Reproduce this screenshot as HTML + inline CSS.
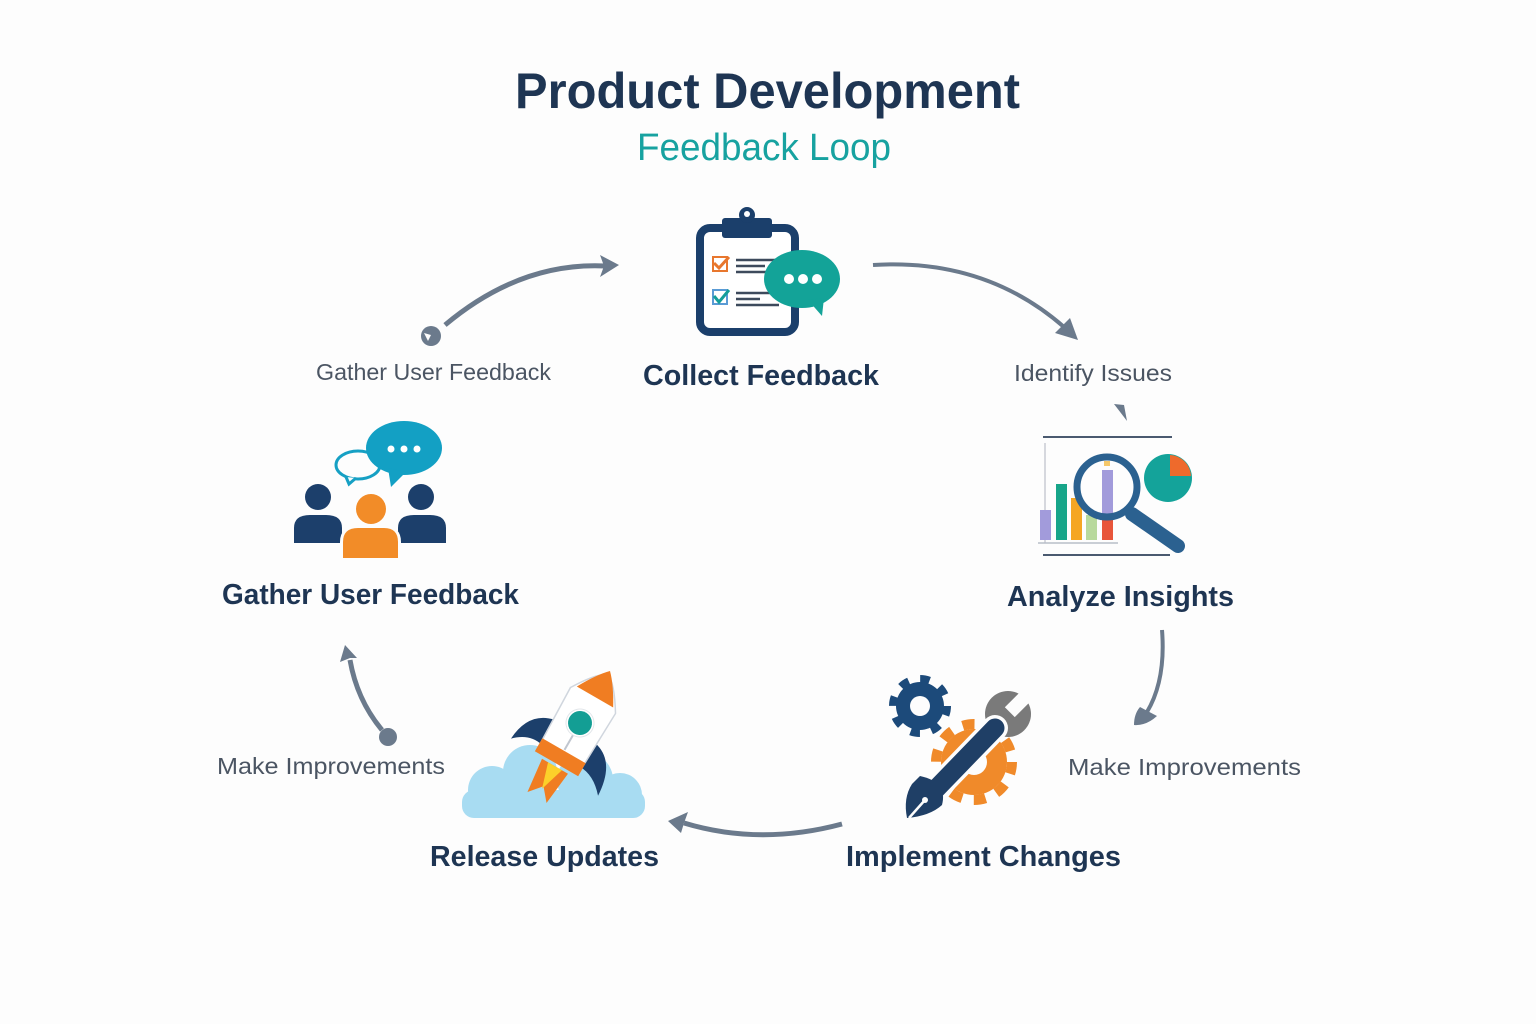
<!DOCTYPE html>
<html><head><meta charset="utf-8"><style>
html,body{margin:0;padding:0;background:#fdfdfd;}
svg{display:block;}
.b{font-family:"Liberation Sans",sans-serif;font-weight:bold;fill:#1e3553;}
.s{font-family:"Liberation Sans",sans-serif;fill:#4b5563;}
</style></head><body>
<svg width="1536" height="1024" viewBox="0 0 1536 1024" xmlns="http://www.w3.org/2000/svg">
<rect width="1536" height="1024" fill="#fdfdfd"/>

<!-- Titles -->
<text class="b" x="515" y="108" font-size="50" textLength="505" lengthAdjust="spacingAndGlyphs">Product Development</text>
<text x="637" y="160" font-family="Liberation Sans,sans-serif" font-size="38" fill="#17a2a0" textLength="254" lengthAdjust="spacingAndGlyphs">Feedback Loop</text>

<!-- Node labels -->
<text class="b" x="643" y="385" font-size="29" textLength="236" lengthAdjust="spacingAndGlyphs">Collect Feedback</text>
<text class="b" x="222" y="604" font-size="29" textLength="297" lengthAdjust="spacingAndGlyphs">Gather User Feedback</text>
<text class="b" x="1007" y="606" font-size="29" textLength="227" lengthAdjust="spacingAndGlyphs">Analyze Insights</text>
<text class="b" x="846" y="866" font-size="29" textLength="275" lengthAdjust="spacingAndGlyphs">Implement Changes</text>
<text class="b" x="430" y="866" font-size="29" textLength="229" lengthAdjust="spacingAndGlyphs">Release Updates</text>

<!-- connector labels -->
<text class="s" x="316" y="380" font-size="23" textLength="235" lengthAdjust="spacingAndGlyphs">Gather User Feedback</text>
<text class="s" x="1014" y="381" font-size="23" textLength="158" lengthAdjust="spacingAndGlyphs">Identify Issues</text>
<text class="s" x="217" y="774" font-size="23" textLength="228" lengthAdjust="spacingAndGlyphs">Make Improvements</text>
<text class="s" x="1068" y="775" font-size="23" textLength="233" lengthAdjust="spacingAndGlyphs">Make Improvements</text>

<!-- Arrows -->
<g fill="#6b7a8c" stroke="none">
  <path d="M445,325 Q520,262 605,266" fill="none" stroke="#6b7a8c" stroke-width="5"/>
  <polygon points="619,265 600,255 604,266 600,277"/>
  <circle cx="431" cy="336" r="10"/>
  <path d="M424,333 l7,2 l-3,6 z" fill="#fdfdfd"/>
  <path d="M873,265 Q985,258 1064,327" fill="none" stroke="#6b7a8c" stroke-width="4"/>
  <polygon points="1078,340 1055,333 1070,318"/>
  <polygon points="1114,404 1124,405 1127,421"/>
  <path d="M1162,630 Q1166,680 1147,712" fill="none" stroke="#6b7a8c" stroke-width="4"/>
  <path d="M1140,707 L1157,716 Q1146,726 1134,725 Q1134,714 1140,707 z"/>
  <path d="M842,824 Q760,846 684,823" fill="none" stroke="#6b7a8c" stroke-width="5"/>
  <polygon points="668,821 688,812 684,823 681,833"/>
  <path d="M382,730 Q357,700 350,660" fill="none" stroke="#6b7a8c" stroke-width="5"/>
  <polygon points="345,645 340,662 350,658 357,658"/>
  <circle cx="388" cy="737" r="9"/>
</g>

<!-- Icon 1: Clipboard -->
<g>
  <rect x="700" y="228" width="95" height="104" rx="10" fill="#fff" stroke="#1b3f6b" stroke-width="8"/>
  <rect x="722" y="218" width="50" height="20" rx="3" fill="#1b3f6b"/>
  <circle cx="747" cy="215" r="8" fill="#1b3f6b"/>
  <circle cx="747" cy="214" r="3" fill="#fff"/>
  <rect x="713" y="257" width="14" height="14" fill="none" stroke="#e8772e" stroke-width="2"/>
  <path d="M714,263 l5,5 l10,-11" fill="none" stroke="#e8772e" stroke-width="3"/>
  <g stroke="#3d4a5c" stroke-width="2.5">
    <line x1="736" y1="260" x2="775" y2="260"/>
    <line x1="736" y1="266" x2="765" y2="266"/>
    <line x1="736" y1="272" x2="770" y2="272"/>
    <line x1="736" y1="293" x2="775" y2="293"/>
    <line x1="736" y1="299" x2="760" y2="299"/>
    <line x1="736" y1="305" x2="779" y2="305"/>
  </g>
  <rect x="713" y="290" width="14" height="14" fill="none" stroke="#5a9bd5" stroke-width="2"/>
  <path d="M714,296 l5,6 l10,-12" fill="none" stroke="#139e9a" stroke-width="3"/>
  <ellipse cx="802" cy="279" rx="38" ry="29" fill="#13a398"/>
  <polygon points="808,300 822,316 824,298" fill="#13a398"/>
  <circle cx="789" cy="279" r="5" fill="#fff"/>
  <circle cx="803" cy="279" r="5" fill="#fff"/>
  <circle cx="817" cy="279" r="5" fill="#fff"/>
</g>

<!-- Icon 2: Analyze -->
<g>
  <line x1="1043" y1="437" x2="1172" y2="437" stroke="#4a5a70" stroke-width="2"/>
  <line x1="1043" y1="555" x2="1170" y2="555" stroke="#4a5a70" stroke-width="2"/>
  <line x1="1045" y1="443" x2="1045" y2="543" stroke="#c8ccd4" stroke-width="1.5"/>
  <line x1="1038" y1="543" x2="1118" y2="543" stroke="#b8bec8" stroke-width="1.5"/>
  <rect x="1040" y="510" width="11" height="30" fill="#a29bdb"/>
  <rect x="1056" y="484" width="11" height="56" fill="#17a589"/>
  <rect x="1071" y="498" width="11" height="42" fill="#f5a623"/>
  <rect x="1086" y="515" width="11" height="25" fill="#b8d99c"/>
  <rect x="1102" y="470" width="11" height="50" fill="#a29bdb"/>
  <rect x="1102" y="520" width="11" height="20" fill="#e8553a"/>
  <rect x="1104" y="461" width="6" height="5" fill="#f5c86a"/>
  <line x1="1132" y1="514" x2="1178" y2="546" stroke="#2b6190" stroke-width="14" stroke-linecap="round"/>
  <circle cx="1107" cy="487" r="30" fill="none" stroke="#2b6190" stroke-width="7"/>
  <circle cx="1168" cy="478" r="24" fill="#14a39a"/>
  <path d="M1170,476 L1170,455 A22,22 0 0 1 1191,476 Z" fill="#ee6a2c"/>
</g>

<!-- Icon 3: People -->
<g>
  <ellipse cx="358" cy="465" rx="22" ry="14" fill="none" stroke="#16a0c4" stroke-width="3"/>
  <path d="M346,477 L349,484 L356,478" fill="#fdfdfd" stroke="#16a0c4" stroke-width="3"/>
  <ellipse cx="404" cy="448" rx="38" ry="27" fill="#13a0c4"/>
  <polygon points="388,468 391,487 406,472" fill="#13a0c4"/>
  <circle cx="391" cy="449" r="3.5" fill="#fff"/>
  <circle cx="404" cy="449" r="3.5" fill="#fff"/>
  <circle cx="417" cy="449" r="3.5" fill="#fff"/>
  <circle cx="318" cy="497" r="13" fill="#1c3f6b"/>
  <path d="M294,543 L294,528 Q294,515 310,515 L326,515 Q342,515 342,528 L342,543 Z" fill="#1c3f6b"/>
  <circle cx="421" cy="497" r="13" fill="#1c3f6b"/>
  <path d="M398,543 L398,528 Q398,515 414,515 L430,515 Q446,515 446,528 L446,543 Z" fill="#1c3f6b"/>
  <circle cx="371" cy="508" r="17" fill="#fdfdfd"/>
  <circle cx="371" cy="509" r="15" fill="#f28c28"/>
  <path d="M340,560 L340,542 Q340,526 358,526 L384,526 Q401,526 401,542 L401,560 Z" fill="#fdfdfd"/>
  <path d="M343,558 L343,542 Q343,528 358,528 L384,528 Q398,528 398,542 L398,558 Z" fill="#f28c28"/>
</g>

<!-- Icon 4: Gears & wrench -->
<g>
  <circle cx="920" cy="706" r="24" fill="#1c4a7a"/>
  <circle cx="920" cy="706" r="27" fill="none" stroke="#1c4a7a" stroke-width="8" stroke-dasharray="9.5 11.7"/>
  <circle cx="920" cy="706" r="10" fill="#fdfdfd"/>
  <circle cx="974" cy="762" r="33" fill="#f08a2a"/>
  <circle cx="974" cy="762" r="38" fill="none" stroke="#f08a2a" stroke-width="10" stroke-dasharray="12 11.9"/>
  <circle cx="974" cy="762" r="13" fill="#fdfdfd"/>
  <circle cx="1008" cy="714" r="23" fill="#7a7a7a"/>
  <rect x="1012" y="690" width="14" height="26" fill="#fdfdfd" transform="rotate(45 1019 703)"/>
  <line x1="995" y1="728" x2="935" y2="790" stroke="#fdfdfd" stroke-width="26" stroke-linecap="round"/>
  <line x1="995" y1="728" x2="935" y2="790" stroke="#1f3f66" stroke-width="19" stroke-linecap="round"/>
  <path d="M920,776 Q948,782 942,805 Q930,816 907,818 Q903,798 912,784 Z" fill="#1f3f66"/>
  <path d="M909,818 L925,800" stroke="#fdfdfd" stroke-width="2.5"/>
  <circle cx="925" cy="800" r="3" fill="#fdfdfd"/>
</g>

<!-- Icon 5: Rocket & cloud -->
<g>
  <g fill="#a8dcf2">
    <circle cx="492" cy="790" r="24"/>
    <circle cx="530" cy="772" r="27"/>
    <circle cx="585" cy="780" r="28"/>
    <circle cx="620" cy="795" r="22"/>
    <rect x="462" y="790" width="183" height="28" rx="12"/>
  </g>
  <g transform="translate(580,723) rotate(30)">
    <path d="M-24,10 Q-50,16 -52,48 Q-38,34 -22,38 Z" fill="#1c3f6b"/>
    <path d="M24,10 Q50,16 52,54 Q38,38 22,38 Z" fill="#1c3f6b"/>
    <path d="M-15,50 L-11,86 L0,73 L11,86 L15,50 Z" fill="#f07d22"/>
    <path d="M-8,50 L0,76 L8,50 Z" fill="#fcd02a"/>
    <path d="M-26,-26 Q-10,-52 0,-56 Q10,-52 26,-26 L24,42 L-24,42 Z" fill="#fff" stroke="#d0d6de" stroke-width="1.5"/>
    <path d="M-21,-30 Q-10,-50 0,-60 Q10,-50 21,-30 Z" fill="#f07d22"/>
    <rect x="-25" y="32" width="50" height="15" fill="#f07d22"/>
    <line x1="0" y1="13" x2="0" y2="31" stroke="#c0c6cf" stroke-width="2"/>
    <circle cx="0" cy="0" r="14" fill="#fff" stroke="#e2e6ea" stroke-width="1"/>
    <circle cx="0" cy="0" r="12" fill="#139e94"/>
  </g>
</g>
</svg>
</body></html>
